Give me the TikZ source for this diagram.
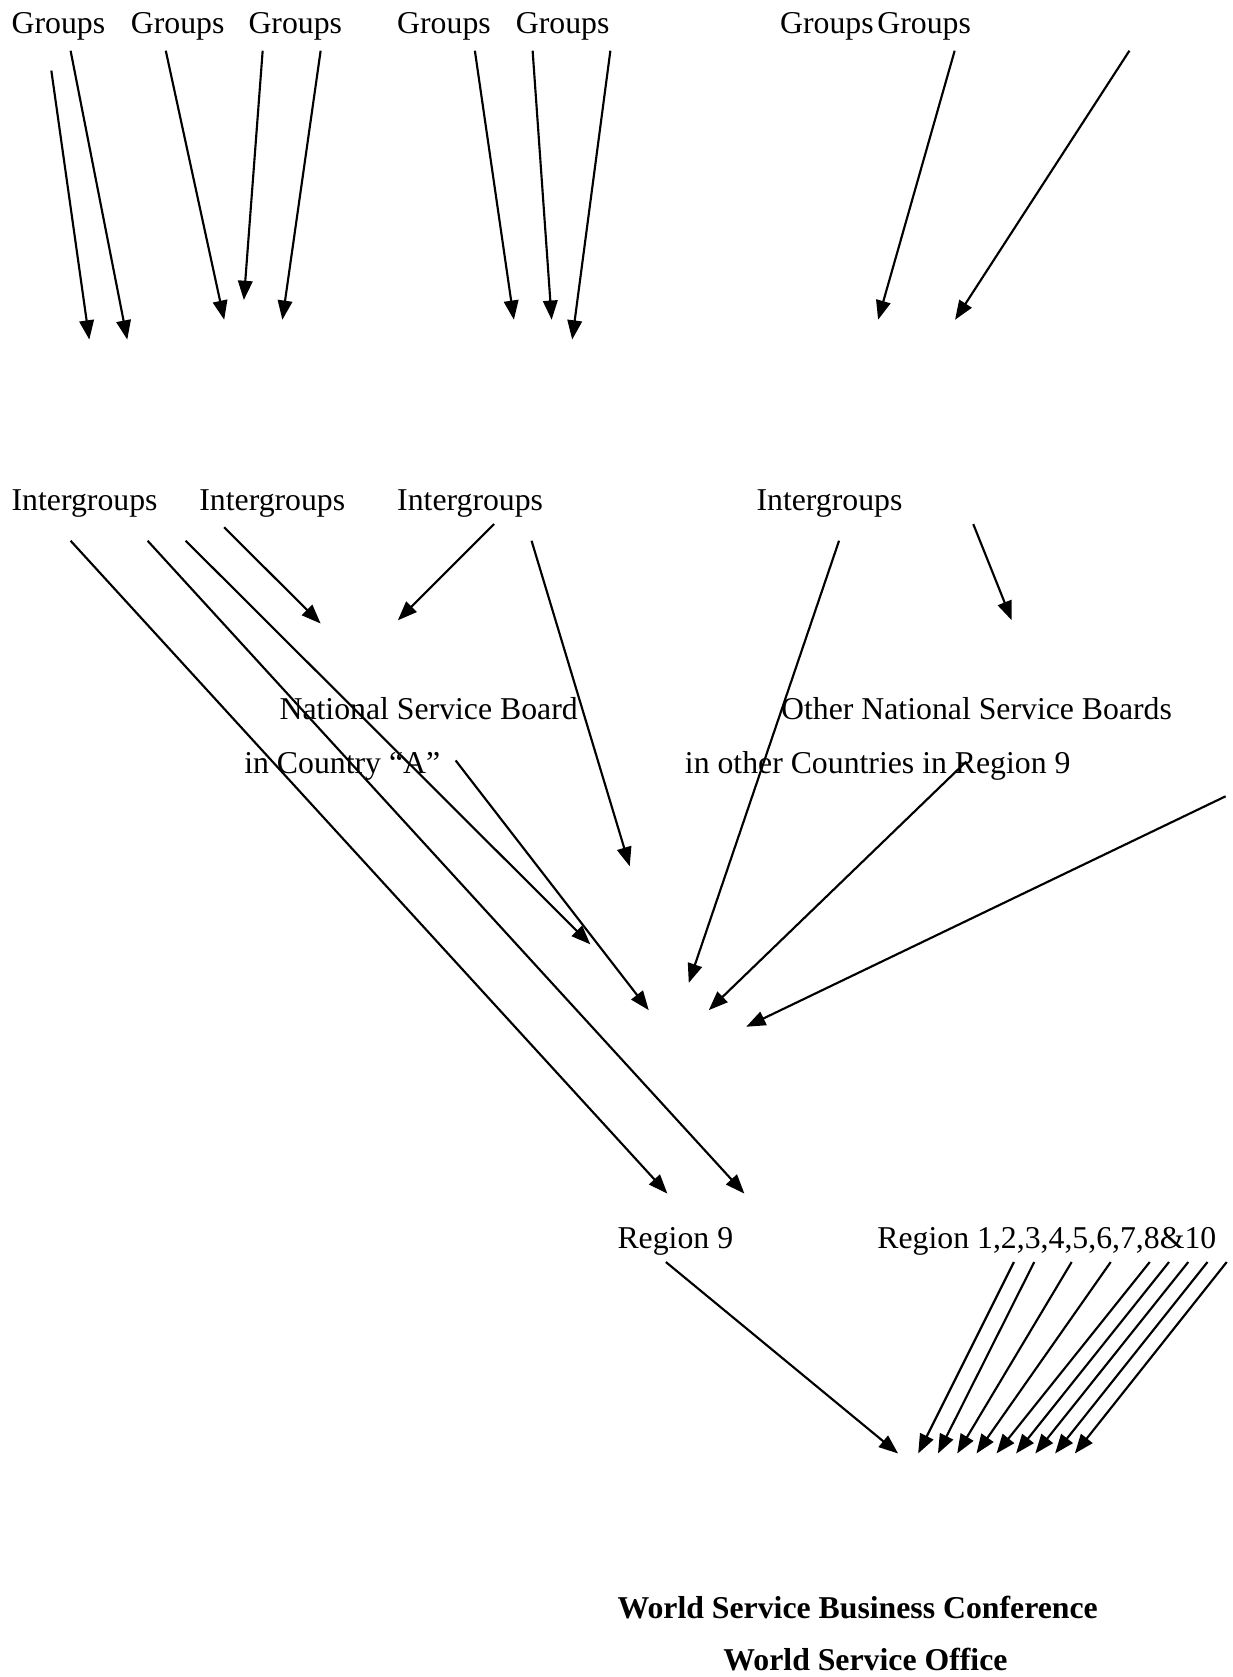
\documentclass[tikz,border=0pt]{standalone}
\usepackage{fontspec}
\setmainfont{Liberation Serif}
\usetikzlibrary{arrows.meta}
\begin{document}
\begin{tikzpicture}[x=0.5pt,y=-0.5pt,
  lbl/.style={anchor=base west,inner sep=0pt,font=\fontsize{14.85pt}{18pt}\selectfont},
  blbl/.style={anchor=base west,inner sep=0pt,font=\fontsize{14.85pt}{18pt}\selectfont\bfseries},
  arr/.style={-{Triangle[length=9pt,width=6.8pt]},line width=1pt}]
\useasboundingbox (0,0) rectangle (1152,1568);
% Groups row
\node[lbl] (g1) at (10.5,31) {Groups};
\node[lbl] (g2) at (122,31) {Groups};
\node[lbl] (g3) at (232,31) {Groups};
\node[lbl] (g4) at (371,31) {Groups};
\node[lbl] (g5) at (482,31) {Groups};
\node[lbl] (g6) at (729,31) {Groups};
\node[lbl] (g7) at (820,31) {Groups};
% Intergroups row
\node[lbl] (i1) at (10.5,477) {Intergroups};
\node[lbl] (i2) at (186,477) {Intergroups};
\node[lbl] (i3) at (371,477) {Intergroups};
\node[lbl] (i4) at (707,477) {Intergroups};
% National boards
\node[lbl] (nsb1) at (261,673) {National Service Board};
\node[lbl] (nsb2) at (228,723) {in Country “A”};
\node[lbl] (onsb1) at (730,673) {Other National Service Boards};
\node[lbl] (onsb2) at (640,723) {in other Countries in Region 9};
% Regions
\node[lbl] (r9) at (577,1167) {Region 9};
\node[lbl] (rx) at (820,1167) {Region 1,2,3,4,5,6,7,8\&10};
% World
\node[blbl] (wsbc) at (577,1513) {World Service Business Conference};
\node[blbl] (wso) at (676,1562) {World Service Office};
% Arrows
\foreach \n/\xa/\ya/\xb/\yb in {
  1/48/66/83.5/317.5,
  2/66/47.4/119/317.5,
  3/155/47.4/209.6/299,
  4/245.6/47.4/228/280.5,
  5/299.8/47.4/264/299,
  6/444/47.4/480.5/299,
  7/498/47.4/515.8/299,
  8/570.7/47.4/535/317.5,
  9/892.6/47.4/821/299,
  10/1056/47.4/893/299,
  11/66/505.6/624/1116,
  12/138/505.6/696/1116,
  13/173.6/505.6/552/883,
  14/209.6/493/299.8/583,
  15/462/490/372/580,
  16/497/505.6/588.8/810,
  17/784.5/505.6/644/919,
  18/910/490/946/580,
  19/426/711/606.6/944.5,
  20/903.5/712/662.7/944.5,
  21/1146/744.5/697.7/960,
  22/622.6/1180/839.7/1359,
  23/948/1180/858.5/1359,
  24/967/1180/877/1359,
  25/1002/1180/895/1359,
  26/1038.5/1180/913/1359,
  27/1075/1180/931.7/1359,
  28/1093/1180/950/1359,
  29/1111/1180/968/1359,
  30/1129/1180/986.5/1359,
  31/1147/1180/1005/1359}{
  \coordinate (a\n s) at (\xa,\ya);
  \coordinate (a\n e) at (\xb,\yb);
  \draw[arr] (a\n s) -- (a\n e);
}
\end{tikzpicture}
\end{document}
